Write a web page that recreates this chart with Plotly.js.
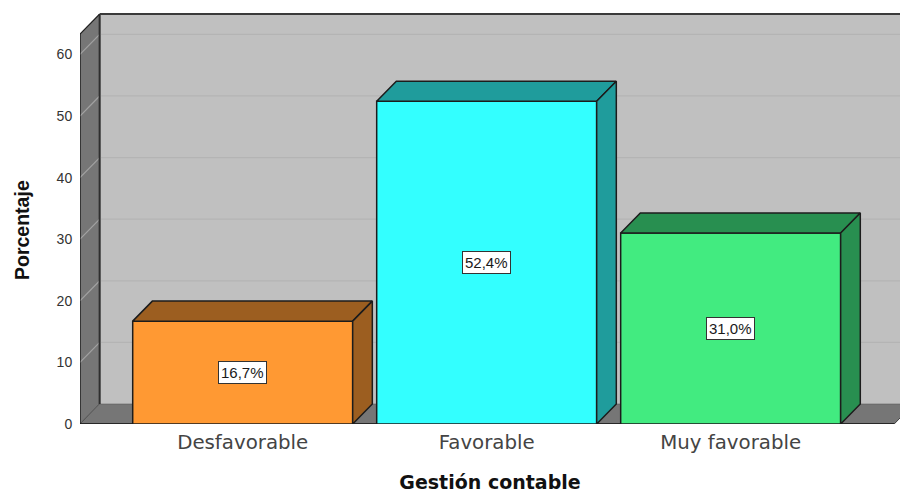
<!DOCTYPE html>
<html>
<head>
<meta charset="utf-8">
<script src="https://cdn.plot.ly/plotly-3.0.1.min.js"></script>
<style>html,body{margin:0;padding:0;background:#fff;overflow:hidden}</style>
</head>
<body>
<div id="chart" style="width:900px;height:493px"></div>
<script>
var categories = ["Desfavorable", "Favorable", "Muy favorable"];
var values = [16.7, 52.4, 31.0];
var valueLabels = ["16,7%", "52,4%", "31,0%"];
var yTicks = [0, 10, 20, 30, 40, 50, 60];
var frontColors = ["#FF9933", "#33FFFF", "#42EB80"];
var shadeColors = ["#9C5E20", "#1F9C9C", "#288F50"];

var xRange = [-0.6668, 2.694];
var yRange = [0, 68.83];
var barWidth = 0.9016;
var depthX = 0.0805;   // 3D depth in x-axis units
var depthY = 3.25;     // 3D depth in y-axis units
var wallTop = 63.3;
var wallRight = 2.67;
var edge = "#1c1c1c";
var xPositions = categories.map(function (c, i) { return i; });

function poly(xs, ys) {
  var p = xs.map(function (x, i) { return (i ? "L" : "M") + x + "," + ys[i]; }).join(" ");
  return p + " Z";
}
function shape(xs, ys, fill, lineColor, lineWidth) {
  return { type: "path", xref: "x", yref: "y", layer: "below", path: poly(xs, ys),
           fillcolor: fill, line: { color: lineColor, width: lineWidth } };
}
function seg(x0, y0, x1, y1, color, width) {
  return { type: "line", xref: "x", yref: "y", layer: "below", x0: x0, y0: y0, x1: x1, y1: y1,
           line: { color: color, width: width } };
}

var L = xRange[0];
var shapes = [
  shape([L + depthX, wallRight + depthX, wallRight + depthX, L + depthX],
        [depthY, depthY, wallTop + depthY, wallTop + depthY], "#C0C0C0", "rgba(0,0,0,0)", 0),
  shape([L, L + depthX, L + depthX, L], [0, depthY, wallTop + depthY, wallTop], "#767676", "#333333", 1),
  shape([L, L + depthX, wallRight + depthX, wallRight], [0, depthY, depthY, 0], "#767676", "#555555", 0.5)
];
yTicks.slice(1).forEach(function (t) {
  shapes.push(seg(L, t, L + depthX, t + depthY, "#A2A2A2", 1.2));
  shapes.push(seg(L + depthX, t + depthY, wallRight + depthX, t + depthY, "#B4B4B4", 1.2));
});
shapes.push(seg(L + depthX, depthY, L + depthX, wallTop + depthY, "#2e2e2e", 2));
shapes.push(seg(L + depthX, wallTop + depthY, wallRight + depthX, wallTop + depthY, "#3a3a3a", 2));
shapes.push(seg(L, wallTop, L + depthX, wallTop + depthY, "#222222", 1.2));
shapes.push(seg(L, 0, L, wallTop, "#222222", 1.2));
shapes.push(seg(L, 0, wallRight, 0, "#111111", 1.6));
shapes.push(seg(wallRight, 0, wallRight + depthX, depthY, "#444444", 1));

var traces = [{
  type: "bar",
  x: xPositions,
  y: values,
  width: barWidth,
  marker: { color: frontColors, line: { color: edge, width: 1.5 } },
  hoverinfo: "skip",
  showlegend: false
}];

values.forEach(function (v, i) {
  var x0 = i - barWidth / 2, x1 = i + barWidth / 2;
  traces.push({
    type: "scatter", mode: "lines", fill: "toself", fillcolor: shadeColors[i],
    x: [x0, x0 + depthX, x1 + depthX, x1, x0],
    y: [v, v + depthY, v + depthY, v, v],
    line: { color: edge, width: 1.5 }, hoverinfo: "skip", showlegend: false
  });
  traces.push({
    type: "scatter", mode: "lines", fill: "toself", fillcolor: shadeColors[i],
    x: [x1, x1 + depthX, x1 + depthX, x1, x1],
    y: [0, depthY, v + depthY, v, 0],
    line: { color: edge, width: 1.5 }, hoverinfo: "skip", showlegend: false
  });
});

var annotations = values.map(function (v, i) {
  return {
    x: xPositions[i], y: v / 2, xref: "x", yref: "y", text: valueLabels[i], showarrow: false,
    font: { family: "Liberation Sans", size: 15, color: "#1a1a1a" },
    bgcolor: "#FFFFFF", bordercolor: "#333333", borderwidth: 1, borderpad: 2
  };
});
annotations.push({
  text: "Porcentaje", textangle: -90, showarrow: false,
  xref: "paper", yref: "y", x: -0.0707, y: 31.5,
  xanchor: "center", yanchor: "middle",
  font: { family: "Liberation Sans", size: 19.5, color: "#111111", weight: "bold" }
});

var layout = {
  width: 900, height: 493,
  margin: { l: 80, r: 0, t: 0, b: 69, pad: 0 },
  paper_bgcolor: "#FFFFFF", plot_bgcolor: "#FFFFFF",
  showlegend: false,
  shapes: shapes,
  annotations: annotations,
  xaxis: {
    type: "linear", range: xRange, tickmode: "array", tickvals: xPositions, ticktext: categories,
    showgrid: false, zeroline: false, showline: false,
    ticks: "outside", ticklen: 0, tickcolor: "rgba(0,0,0,0)",
    tickfont: { family: "DejaVu Sans", size: 19.8, color: "#444444" },
    title: { text: "Gestión contable", standoff: 27,
             font: { family: "DejaVu Sans", size: 19, color: "#111111", weight: "bold" } }
  },
  yaxis: {
    range: yRange, tickmode: "array", tickvals: yTicks,
    showgrid: false, zeroline: false, showline: false,
    ticks: "outside", ticklen: 4, tickcolor: "rgba(0,0,0,0)",
    tickfont: { family: "Liberation Sans", size: 14, color: "#333333" }
  }
};

Plotly.newPlot("chart", traces, layout, { displayModeBar: false, staticPlot: true });
</script>
</body>
</html>
